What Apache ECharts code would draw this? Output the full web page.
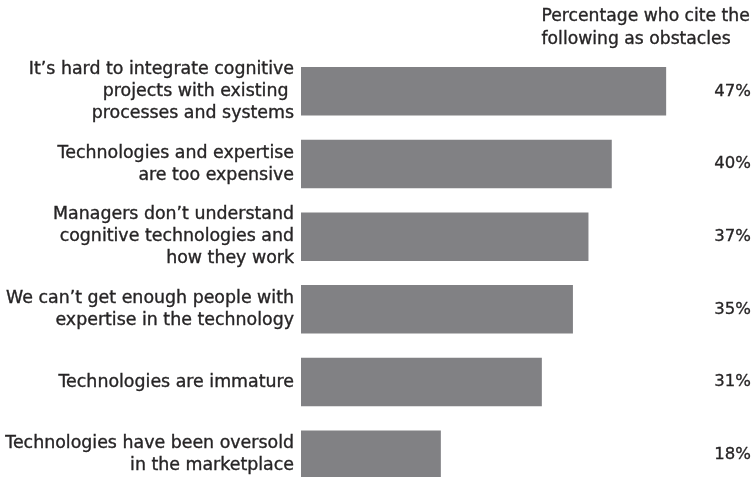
<!DOCTYPE html>
<html><head><meta charset="utf-8">
<script src="https://cdn.jsdelivr.net/npm/echarts@6/dist/echarts.min.js"></script>
<style>html,body{margin:0;padding:0;background:#fff}#c{width:755px;height:477px}</style>
</head><body><div id="c"></div>
<script>
const categories = [
  "It\u2019s hard to integrate cognitive\nprojects with existing \nprocesses and systems",
  "Technologies and expertise\nare too expensive",
  "Managers don\u2019t understand\ncognitive technologies and\nhow they work",
  "We can\u2019t get enough people with\nexpertise in the technology",
  "Technologies are immature",
  "Technologies have been oversold\nin the marketplace"
];
const values = [47, 40, 37, 35, 31, 18];
const titleText = "Percentage who cite the\nfollowing as obstacles";

const chart = echarts.init(document.getElementById('c'));
const font = "DejaVu Sans";
const ink = '#262425';
chart.setOption({
  animation: false,
  graphic: [{
    type: 'text', right: 5, top: 5,
    style: {text: titleText, align: 'right', fontFamily: font, fontSize: 17.2, lineHeight: 23,
            fill: ink, stroke: ink, lineWidth: 0.35}
  }],
  grid: {left: 301, top: 55, width: 404, height: 436, outerBoundsMode: 'none', containLabel: false},
  xAxis: {type: 'value', min: 0, max: 52, show: false},
  yAxis: [
    {type: 'category', data: categories, inverse: true,
     axisLine: {show: false}, axisTick: {show: false},
     axisLabel: {margin: 7, fontFamily: font, fontSize: 17.4, lineHeight: 22, color: ink, align: 'right',
                 textBorderColor: ink, textBorderWidth: 0.35}},
    {type: 'category', data: values, inverse: true, position: 'right',
     axisLine: {show: false}, axisTick: {show: false},
     axisLabel: {margin: 46, align: 'right', fontFamily: font, fontSize: 16.5, color: ink,
                 textBorderColor: ink, textBorderWidth: 0.3, formatter: v => v + '%'}}
  ],
  series: [{
    type: 'bar', data: values, yAxisIndex: 0, barWidth: 48.5,
    itemStyle: {color: '#818184'}
  }]
});
</script></body></html>
